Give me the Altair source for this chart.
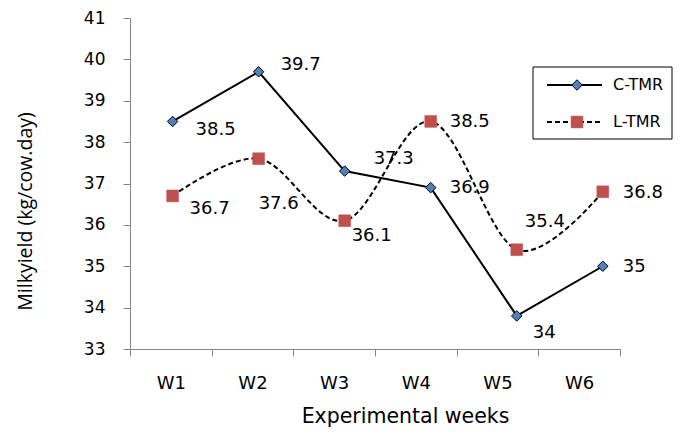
import altair as alt
import pandas as pd

# ---- data ----
weeks = ["W1", "W2", "W3", "W4", "W5", "W6"]
series_names = ["C-TMR", "L-TMR"]
c_tmr = [38.5, 39.7, 37.3, 36.9, 33.8, 35.0]
l_tmr = [36.7, 37.6, 36.1, 38.5, 35.4, 36.8]
c_text = ["38.5", "39.7", "37.3", "36.9", "34", "35"]
l_text = ["36.7", "37.6", "36.1", "38.5", "35.4", "36.8"]
y_ticks = [33, 34, 35, 36, 37, 38, 39, 40, 41]

# ---- label placement (pixels, style only) ----
c_label_dx = [23, 22, 29, 19, 16, 20]
c_label_dy = [9, -7, -12, 0, 17, 1]
l_label_dx = [17, 0, 7, 19, 8, 20]
l_label_dy = [13, 45, 15, 1, -28, 1]

FONT = "DejaVu Sans"
VFONT = "Open Sans"
AXIS_GREY = "#868686"
BLUE = "#4F81BD"
RED = "#C0504D"

rows = []
for s, vals, txts in [(series_names[0], c_tmr, c_text), (series_names[1], l_tmr, l_text)]:
    for i, (w, v, t) in enumerate(zip(weeks, vals, txts)):
        rows.append({"series": s, "week": w, "idx": i, "value": v, "label": t})
df = pd.DataFrame(rows)

xs = alt.Scale(domain=[-0.495, 5.2], nice=False, zero=False)
ys = alt.Scale(domain=[33, 41], nice=False, zero=False)

y_axis = alt.Axis(
    values=y_ticks, grid=False, tickSize=7, domainColor=AXIS_GREY, tickColor=AXIS_GREY,
    labelFont=FONT, labelFontSize=17, labelColor="black", labelPadding=18,
    title="Milkyield (kg/cow.day)", titleFont=VFONT, titleFontSize=19.5,
    titleFontWeight="normal", titleColor="black", titleX=-105, titleY=193,
    titleAngle=-90, titleBaseline="middle", titleAlign="center",
)
X = alt.X("idx:Q", scale=xs, axis=None)
Y = alt.Y("value:Q", scale=ys, axis=y_axis)

base = alt.Chart(df)
c_line = base.transform_filter(alt.datum.series == series_names[0]).mark_line(
    color="black", strokeWidth=2).encode(x=X, y=Y)
l_line = base.transform_filter(alt.datum.series == series_names[1]).mark_line(
    color="black", strokeWidth=2, strokeDash=[5, 3], interpolate="cardinal").encode(x=X, y=Y)
c_pts = base.transform_filter(alt.datum.series == series_names[0]).mark_point(
    shape="diamond", filled=True, fill=BLUE, stroke="black", strokeWidth=1,
    size=110, opacity=1).encode(x=X, y=Y)
l_pts = base.transform_filter(alt.datum.series == series_names[1]).mark_point(
    shape="square", filled=True, fill=RED, stroke=RED, strokeWidth=0.5,
    size=140, opacity=1).encode(x=X, y=Y)

label_layers = []
for s, dxs, dys in [(series_names[0], c_label_dx, c_label_dy), (series_names[1], l_label_dx, l_label_dy)]:
    for i in range(len(weeks)):
        label_layers.append(
            base.transform_filter((alt.datum.series == s) & (alt.datum.idx == i))
            .mark_text(align="left", baseline="middle", dx=dxs[i], dy=dys[i],
                       font=FONT, fontSize=18, color="black")
            .encode(x=X, y=Y, text="label:N")
        )

# ---- manual legend ----
one = pd.DataFrame({"a": [0]})
lg = alt.Chart(one)
leg_box = lg.mark_rect(fill="white", stroke="black", strokeWidth=1).encode(
    x=alt.value(403), x2=alt.value(542), y=alt.value(49), y2=alt.value(121))
leg_c_line = lg.mark_rule(color="black", strokeWidth=2).encode(
    x=alt.value(417), x2=alt.value(472), y=alt.value(67))
leg_l_line = lg.mark_rule(color="black", strokeWidth=2, strokeDash=[5, 3]).encode(
    x=alt.value(417), x2=alt.value(472), y=alt.value(104))
leg_c_pt = lg.mark_point(shape="diamond", filled=True, fill=BLUE, stroke="black",
                         strokeWidth=1, size=110, opacity=1).encode(
    x=alt.value(447), y=alt.value(67))
leg_l_pt = lg.mark_point(shape="square", filled=True, fill=RED, stroke=RED,
                         strokeWidth=0.5, size=140, opacity=1).encode(
    x=alt.value(447), y=alt.value(104))
leg_c_txt = lg.mark_text(align="left", baseline="middle", font=FONT, fontSize=16,
                         color="black").encode(
    x=alt.value(483), y=alt.value(67), text=alt.value(series_names[0]))
leg_l_txt = lg.mark_text(align="left", baseline="middle", font=FONT, fontSize=16,
                         color="black").encode(
    x=alt.value(483), y=alt.value(104), text=alt.value(series_names[1]))

data_layer = alt.layer(
    c_line, l_line, c_pts, l_pts, *label_layers,
    leg_box, leg_c_line, leg_l_line, leg_c_pt, leg_l_pt, leg_c_txt, leg_l_txt,
)

# ---- category axis (band boundaries as ticks, labels centred) ----
axis_df = pd.DataFrame({"b": [0, 6]})
axis_layer = alt.Chart(axis_df).mark_point(opacity=0).encode(
    x=alt.X("b:Q", scale=alt.Scale(domain=[0, 6], nice=False, zero=False),
            axis=alt.Axis(
                orient="bottom", values=[0, 1, 2, 3, 4, 5, 6],
                labelExpr="datum.value < 6 ? 'W' + (datum.value + 1) : ''",
                labelOffset=40.8, labelFlush=False, labelOverlap=False,
                tickSize=7, grid=False, domainColor=AXIS_GREY, tickColor=AXIS_GREY,
                labelFont=FONT, labelFontSize=18, labelColor="black",
                labelBaseline="alphabetic", labelPadding=32,
                title="Experimental weeks", titleFont=FONT, titleFontSize=20.5,
                titleFontWeight="normal", titleColor="black",
                titleX=275, titleY=73, titleBaseline="alphabetic", titleAlign="center",
            ))
)

chart = alt.layer(axis_layer, data_layer).resolve_scale(x="independent").properties(
    width=490, height=331,
    padding={"left": 122, "top": 10, "right": 53, "bottom": 82},
    autosize=alt.AutoSizeParams(type="none"),
).configure_view(stroke=None)

chart.save("out.html", embed_options={"renderer": "svg", "actions": False})
